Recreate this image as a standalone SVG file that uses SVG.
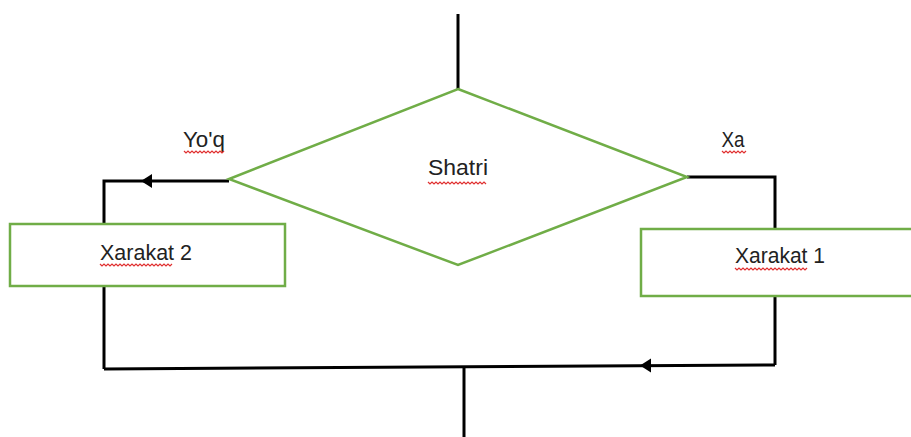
<svg xmlns="http://www.w3.org/2000/svg" width="911" height="437" viewBox="0 0 911 437">
<style>
.ln{stroke:#000;stroke-width:3;fill:none}
.sh{stroke:#70AD47;stroke-width:2.5;fill:#fff}
.t{font-family:"Liberation Sans",Arial,sans-serif;font-size:22px;fill:#222}
.sq{stroke:#e03030;stroke-width:1.2;fill:none}
</style>
<defs>
<path id="ah" d="M0,0 L11,-7 L11,7 Z" fill="#000"/>
</defs>
<g id="connectors">
<path class="ln" d="M458,14 V90"/>
<path class="ln" d="M229,181 H104 V223"/>
<use href="#ah" x="141" y="181"/>
<path class="ln" d="M687,177 H775 V228"/>
<path class="ln" d="M104,287 V369"/>
<path class="ln" d="M775,297 V365"/>
<path class="ln" d="M104,369 L775,365"/>
<use href="#ah" x="640" y="365.5"/>
<path class="ln" d="M464,366 V437"/>
</g>
<g id="decision">
<polygon class="sh" points="458,89 687,177 458,265 229,179"/>
<text class="t" x="458" y="175" text-anchor="middle" textLength="60" lengthAdjust="spacingAndGlyphs">Shatri</text>
<path class="sq" d="M428,182 l2,2 l2,-2 l2,2 l2,-2 l2,2 l2,-2 l2,2 l2,-2 l2,2 l2,-2 l2,2 l2,-2 l2,2 l2,-2 l2,2 l2,-2 l2,2 l2,-2 l2,2 l2,-2 l2,2 l2,-2 l2,2 l2,-2 l2,2 l2,-2 l2,2 l2,-2 l2,2"/>
</g>
<g id="label-no">
<text class="t" x="204" y="147" text-anchor="middle" textLength="42" lengthAdjust="spacingAndGlyphs">Yo'q</text>
<path class="sq" d="M184,151 l2,2 l2,-2 l2,2 l2,-2 l2,2 l2,-2 l2,2 l2,-2 l2,2 l2,-2 l2,2 l2,-2 l2,2 l2,-2 l2,2 l2,-2 l2,2 l2,-2 l2,2 l2,-2"/>
</g>
<g id="label-yes">
<text class="t" x="733" y="147" text-anchor="middle" textLength="23" lengthAdjust="spacingAndGlyphs">Xa</text>
<path class="sq" d="M722,151 l2,2 l2,-2 l2,2 l2,-2 l2,2 l2,-2 l2,2 l2,-2 l2,2 l2,-2 l2,2 l2,-2"/>
</g>
<g id="action2">
<rect class="sh" x="10" y="224" width="275" height="62"/>
<text class="t" x="146" y="260" text-anchor="middle" textLength="92" lengthAdjust="spacingAndGlyphs">Xarakat 2</text>
<path class="sq" d="M100,264 l2,2 l2,-2 l2,2 l2,-2 l2,2 l2,-2 l2,2 l2,-2 l2,2 l2,-2 l2,2 l2,-2 l2,2 l2,-2 l2,2 l2,-2 l2,2 l2,-2 l2,2 l2,-2 l2,2 l2,-2 l2,2 l2,-2 l2,2 l2,-2 l2,2 l2,-2 l2,2 l2,-2 l2,2 l2,-2 l2,2 l2,-2 l2,2 l2,-2"/>
</g>
<g id="action1">
<rect class="sh" x="641" y="229" width="280" height="67"/>
<text class="t" x="780" y="263" text-anchor="middle" textLength="90" lengthAdjust="spacingAndGlyphs">Xarakat 1</text>
<path class="sq" d="M735,268 l2,2 l2,-2 l2,2 l2,-2 l2,2 l2,-2 l2,2 l2,-2 l2,2 l2,-2 l2,2 l2,-2 l2,2 l2,-2 l2,2 l2,-2 l2,2 l2,-2 l2,2 l2,-2 l2,2 l2,-2 l2,2 l2,-2 l2,2 l2,-2 l2,2 l2,-2 l2,2 l2,-2 l2,2 l2,-2 l2,2 l2,-2 l2,2 l2,-2"/>
</g>
</svg>
